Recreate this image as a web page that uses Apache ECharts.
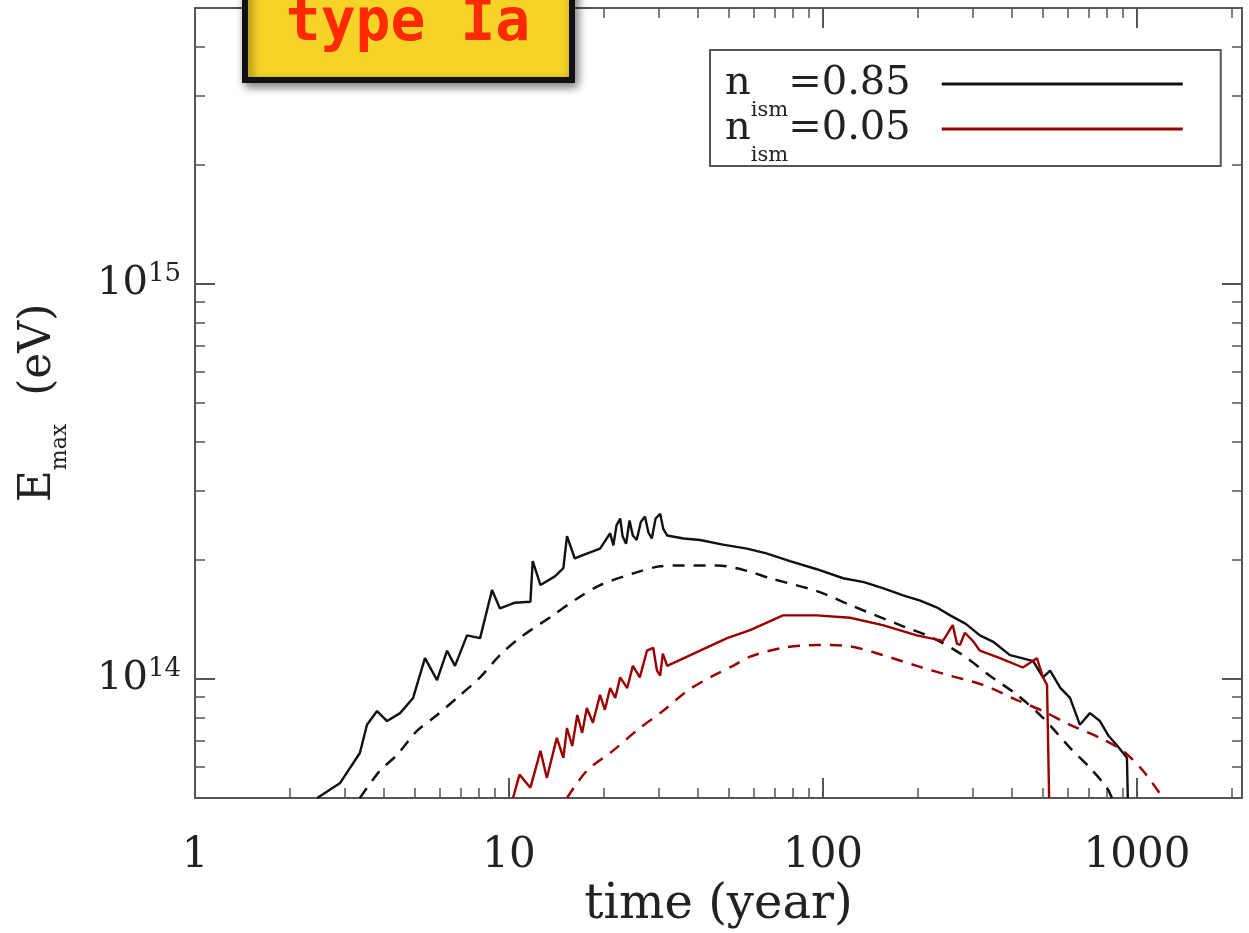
<!DOCTYPE html>
<html>
<head>
<meta charset="utf-8">
<title>type Ia - Emax vs time</title>
<script src="https://cdn.jsdelivr.net/npm/echarts@6/dist/echarts.min.js"></script>
<style>
  html, body { margin: 0; padding: 0; background: #fff; }
  #main { width: 1249px; height: 933px; }
</style>
</head>
<body>
<div id="main"></div>
<script>
// n_ism = 0.85 : simulation (solid) and model (dashed)
var denseSimTime = [2.45, 2.9, 3.35, 3.53, 3.8, 4.09, 4.5, 4.95, 5.4, 5.9, 6.35, 6.73, 7.35, 8.09, 8.83, 9.36,
  10.4, 11.7, 11.9, 12.6, 14.0, 14.9, 15.3, 16.2, 17.2, 19.5, 21.0, 21.5, 22.0, 22.6, 23.0, 23.6, 24.2, 24.8,
  25.5, 26.3, 27.1, 27.8, 28.5, 29.3, 30.3, 31.0, 31.9, 36.0, 40.6, 48.0, 57.3, 66.0, 78.5, 95.0, 116, 135, 155,
  180, 204, 230, 254, 285, 316, 350, 394, 430, 467, 502, 529, 570, 612, 658, 708, 762, 810, 863, 929, 935];
var denseSimEmax = [5.0e13, 5.46e13, 6.5e13, 7.66e13, 8.3e13, 7.83e13, 8.2e13, 8.96e13, 1.13e14, 9.94e13, 1.18e14,
  1.08e14, 1.29e14, 1.27e14, 1.68e14, 1.51e14, 1.56e14, 1.57e14, 1.99e14, 1.73e14, 1.82e14, 1.91e14, 2.30e14,
  2.02e14, 2.06e14, 2.14e14, 2.34e14, 2.18e14, 2.45e14, 2.55e14, 2.30e14, 2.20e14, 2.52e14, 2.31e14, 2.25e14,
  2.50e14, 2.58e14, 2.35e14, 2.27e14, 2.55e14, 2.62e14, 2.40e14, 2.31e14, 2.27e14, 2.25e14, 2.19e14, 2.14e14,
  2.08e14, 1.99e14, 1.90e14, 1.80e14, 1.76e14, 1.70e14, 1.63e14, 1.58e14, 1.52e14, 1.45e14, 1.38e14, 1.29e14,
  1.24e14, 1.15e14, 1.13e14, 1.11e14, 1.01e14, 1.05e14, 9.5e13, 8.96e13, 7.66e13, 8.2e13, 7.83e13, 7.2e13,
  6.8e13, 6.32e13, 5.0e13];
var denseModelTime = [3.35, 3.88, 4.4, 5.09, 5.9, 6.83, 8.09, 9.36, 10.8, 13.8, 16.5, 19.5, 24.8, 30.3, 35.8,
  45.9, 57.3, 67.8, 95.7, 122, 176, 224, 279, 340, 415, 502, 612, 708, 802, 832];
var denseModelEmax = [5.0e13, 5.86e13, 6.43e13, 7.39e13, 8.11e13, 8.96e13, 1.01e14, 1.15e14, 1.27e14, 1.45e14,
  1.60e14, 1.73e14, 1.85e14, 1.93e14, 1.94e14, 1.94e14, 1.88e14, 1.80e14, 1.67e14, 1.54e14, 1.37e14, 1.27e14,
  1.15e14, 1.02e14, 9.12e13, 7.98e13, 6.70e13, 5.96e13, 5.31e13, 5.0e13];

// n_ism = 0.05 : simulation (solid) and model (dashed)
var thinSimTime = [10.3, 10.8, 11.7, 12.6, 13.2, 14.2, 14.9, 15.3, 15.9, 16.5, 17.1, 17.7, 18.5, 19.5, 20.2,
  21.0, 21.8, 22.6, 23.8, 24.8, 26.1, 27.5, 28.8, 29.6, 30.3, 30.9, 31.9, 40.6, 49.5, 58.6, 74.6, 95.7, 122,
  155, 199, 241, 259, 267, 273, 283, 300, 316, 366, 433, 480, 502, 517, 525];
var thinSimEmax = [5.0e13, 5.73e13, 5.31e13, 6.58e13, 5.62e13, 7.10e13, 6.32e13, 7.52e13, 6.77e13, 8.11e13,
  7.31e13, 8.45e13, 7.75e13, 9.12e13, 8.36e13, 9.49e13, 8.96e13, 1.01e14, 9.49e13, 1.08e14, 1.01e14, 1.18e14,
  1.20e14, 1.05e14, 1.02e14, 1.16e14, 1.08e14, 1.18e14, 1.27e14, 1.33e14, 1.45e14, 1.45e14, 1.43e14, 1.37e14,
  1.29e14, 1.25e14, 1.37e14, 1.23e14, 1.22e14, 1.31e14, 1.25e14, 1.18e14, 1.13e14, 1.07e14, 1.13e14, 1.01e14,
  9.67e13, 5.0e13];
var thinModelTime = [15.3, 17.7, 21.4, 26.1, 30.9, 36.9, 44.7, 51.7, 58.6, 74.6, 95.7, 122, 155, 199, 254, 323,
  415, 502, 612, 762, 902, 1045, 1210];
var thinModelEmax = [5.0e13, 5.86e13, 6.58e13, 7.52e13, 8.30e13, 9.33e13, 1.02e14, 1.08e14, 1.14e14, 1.20e14,
  1.22e14, 1.21e14, 1.15e14, 1.08e14, 1.02e14, 9.67e13, 8.85e13, 8.30e13, 7.66e13, 7.10e13, 6.58e13, 5.86e13,
  5.0e13];

// axis ticks
var xMajorTicks = [1, 10, 100, 1000];
var xMinorTicks = [2, 3, 4, 5, 6, 7, 8, 9, 20, 30, 40, 50, 60, 70, 80, 90, 200, 300, 400, 500, 600, 700, 800, 900, 2000];
var yMinorTicks = [6e13, 7e13, 8e13, 9e13, 2e14, 3e14, 4e14, 5e14, 6e14, 7e14, 8e14, 9e14, 2e15, 3e15, 4e15];

var legendNames = ['n_ism=0.85', 'n_ism=0.05'];

function zip(a, b) {
  return a.map(function (v, i) { return [v, b[i]]; });
}

var frameColor = '#555';
var serif = '"DejaVu Serif", serif';
var black = '#111';
var red = '#9b0000';

function xAxisOf(position, minor) {
  return {
    type: 'log',
    logBase: 10,
    min: 1,
    max: 2160,
    position: position,
    axisLine: { show: !minor, lineStyle: { color: frameColor, width: 2 } },
    axisTick: minor
      ? { show: true, inside: true, length: 10, customValues: xMinorTicks, lineStyle: { color: frameColor, width: 1.5 } }
      : { show: true, inside: true, length: 20, customValues: xMajorTicks, lineStyle: { color: frameColor, width: 2 } },
    axisLabel: { show: false },
    splitLine: { show: false },
    minorTick: { show: false }
  };
}

function yAxisOf(position, minor) {
  return {
    type: 'log',
    logBase: 10,
    min: 5e13,
    max: 5e15,
    position: position,
    axisLine: { show: !minor, lineStyle: { color: frameColor, width: 2 } },
    axisTick: minor
      ? { show: true, inside: true, length: 10, customValues: yMinorTicks, lineStyle: { color: frameColor, width: 1.5 } }
      : { show: true, inside: true, length: 20, lineStyle: { color: frameColor, width: 2 } },
    axisLabel: { show: false },
    splitLine: { show: false },
    minorTick: { show: false }
  };
}

var xMain = xAxisOf('bottom', false);
xMain.axisLabel = {
  show: true,
  margin: 37,
  color: '#222',
  fontFamily: serif,
  fontSize: 42,
  customValues: xMajorTicks,
  formatter: function (v) { return String(Math.round(v)); }
};
xMain.name = 'time (year)';
xMain.nameLocation = 'middle';
xMain.nameGap = 81;
xMain.nameTextStyle = { color: '#222', fontFamily: serif, fontSize: 48 };

var yMain = yAxisOf('left', false);
yMain.axisLabel = {
  show: true,
  margin: 14,
  showMinLabel: false,
  showMaxLabel: false,
  formatter: function (v) {
    return '{b|10}{s|' + Math.round(Math.log10(v)) + '}';
  },
  rich: {
    b: { fontFamily: serif, fontSize: 40, color: '#222', lineHeight: 46 },
    s: { fontFamily: serif, fontSize: 26, color: '#222', verticalAlign: 'top', lineHeight: 46 }
  }
};
yMain.name = '{e|E}{m|max}{u|  (eV)}';
yMain.nameLocation = 'middle';
yMain.nameRotate = 90;
yMain.nameGap = 124;
yMain.nameTextStyle = {
  rich: {
    e: { fontFamily: serif, fontSize: 44, color: '#222', lineHeight: 64 },
    m: { fontFamily: serif, fontSize: 22, color: '#222', lineHeight: 22, verticalAlign: 'bottom' },
    u: { fontFamily: serif, fontSize: 44, color: '#222', lineHeight: 64 }
  }
};

var myChart = echarts.init(document.getElementById('main'));

var option = {
  backgroundColor: '#fff',
  animation: false,
  grid: { left: 195, right: 7, top: 8, bottom: 135, containLabel: false, outerBoundsMode: 'none' },
  xAxis: [xMain, xAxisOf('bottom', true), xAxisOf('top', false), xAxisOf('top', true)],
  yAxis: [yMain, yAxisOf('left', true), yAxisOf('right', false), yAxisOf('right', true)],
  legend: {
    data: legendNames,
    orient: 'vertical',
    left: 710,
    top: 50,
    align: 'right',
    icon: 'rect',
    itemWidth: 241,
    itemHeight: 3,
    itemGap: -12,
    padding: [14, 38, 0, 15],
    borderColor: frameColor,
    borderWidth: 2,
    backgroundColor: '#fff',
    formatter: function (name) {
      return '{n|n}{s|ism}{v|=' + name.split('=')[1] + '}';
    },
    textStyle: {
      rich: {
        n: { fontFamily: serif, fontSize: 40, color: '#222', lineHeight: 74 },
        s: { fontFamily: serif, fontSize: 21, color: '#222', lineHeight: 21, verticalAlign: 'bottom' },
        v: { fontFamily: serif, fontSize: 40, color: '#222', lineHeight: 74, padding: [0, 26, 0, 0] }
      }
    }
  },
  graphic: [
    {
      type: 'rect',
      z: 100,
      shape: { x: 245, y: -30, width: 327, height: 110 },
      style: {
        fill: '#f5d327',
        stroke: '#111',
        lineWidth: 6,
        shadowBlur: 10,
        shadowColor: 'rgba(0,0,0,0.45)',
        shadowOffsetX: 3,
        shadowOffsetY: 4
      }
    },
    {
      type: 'text',
      z: 101,
      x: 408,
      y: 25,
      style: {
        text: 'type Ia',
        fill: '#ff2a00',
        font: 'bold 58px "DejaVu Sans Mono", monospace',
        align: 'center',
        verticalAlign: 'middle'
      }
    }
  ],
  series: [
    {
      name: legendNames[0],
      type: 'line',
      xAxisIndex: 0,
      yAxisIndex: 0,
      symbol: 'none',
      lineStyle: { color: black, width: 2.4 },
      itemStyle: { color: black },
      data: zip(denseSimTime, denseSimEmax)
    },
    {
      name: 'model 0.85',
      type: 'line',
      xAxisIndex: 0,
      yAxisIndex: 0,
      symbol: 'none',
      smooth: 0.3,
      lineStyle: { color: black, width: 2.5, type: [12, 9] },
      data: zip(denseModelTime, denseModelEmax)
    },
    {
      name: legendNames[1],
      type: 'line',
      xAxisIndex: 0,
      yAxisIndex: 0,
      symbol: 'none',
      lineStyle: { color: red, width: 2.4 },
      itemStyle: { color: red },
      data: zip(thinSimTime, thinSimEmax)
    },
    {
      name: 'model 0.05',
      type: 'line',
      xAxisIndex: 0,
      yAxisIndex: 0,
      symbol: 'none',
      smooth: 0.3,
      lineStyle: { color: red, width: 2.5, type: [12, 9] },
      data: zip(thinModelTime, thinModelEmax)
    }
  ]
};

myChart.setOption(option);
</script>
</body>
</html>
